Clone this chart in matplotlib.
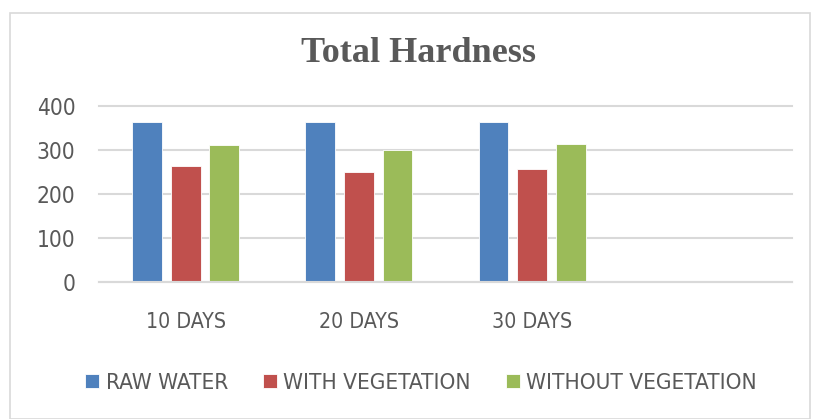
import matplotlib.pyplot as plt
from matplotlib.patches import Rectangle
import numpy as np

plt.rcParams['font.family'] = ['DejaVu Sans']
plt.rcParams['font.stretch'] = 'condensed'

categories = ["10 DAYS", "20 DAYS", "30 DAYS", ""]
raw_water = [363, 363, 363, 0]
with_veg = [264, 249, 257, 0]
without_veg = [311, 300, 313, 0]
series_names = ["RAW WATER", "WITH VEGETATION", "WITHOUT VEGETATION"]
colors = ["#4F81BD", "#C0504D", "#9BBB59"]
yticks = [0, 100, 200, 300, 400]

fig = plt.figure(figsize=(8.13, 4.19), dpi=100)
fig.patch.set_facecolor("white")

# light frame around the chart area
fig.patches.append(Rectangle((10/813, 0.0), 800/813, 1 - 13/419, transform=fig.transFigure,
                             fill=False, edgecolor="#d9d9d9", linewidth=1.2))

ax = fig.add_axes([99/813, 1 - 281.7/419, 693/813, 176/419])

x = np.arange(len(categories))
w = 0.173
step = 0.223
n = 3  # last slot is empty
for i, (vals, c, name) in enumerate(zip([raw_water, with_veg, without_veg], colors, series_names)):
    ax.bar(x[:n] + (i - 1) * step, vals[:n], width=w, color=c, label=name,
           edgecolor="white", linewidth=0.6)

ax.set_xlim(-0.5, len(categories) - 0.5)
ax.set_ylim(0, 400)
ax.set_yticks(yticks)
ax.set_xticks(x[:n])
ax.set_xticklabels(categories[:n])
ax.grid(axis="y", color="#d9d9d9", linewidth=1.5)
ax.set_axisbelow(True)
for sp in ["top", "right", "left"]:
    ax.spines[sp].set_visible(False)
ax.spines["bottom"].set_color("#d9d9d9")
ax.spines["bottom"].set_linewidth(1.5)
ax.tick_params(axis="both", length=0, colors="#595959")
ax.tick_params(axis="x", pad=22, labelsize=15.3)
ax.tick_params(axis="y", pad=17, labelsize=16.3)
for gl in ax.get_ygridlines():
    gl.set_clip_on(False)

fig.text(418/813, 1 - 54/419, "Total Hardness", ha="center", va="center",
         fontsize=26, fontweight="bold", color="#595959", family="Liberation Serif")

fig.legend(loc="center", bbox_to_anchor=(421/813, 1 - 383/419), ncol=3, frameon=False,
           fontsize=16.2, handlelength=0.62, handleheight=0.62, handletextpad=0.3,
           columnspacing=1.55, labelcolor="#595959")

fig.savefig("out.png", dpi=100)
